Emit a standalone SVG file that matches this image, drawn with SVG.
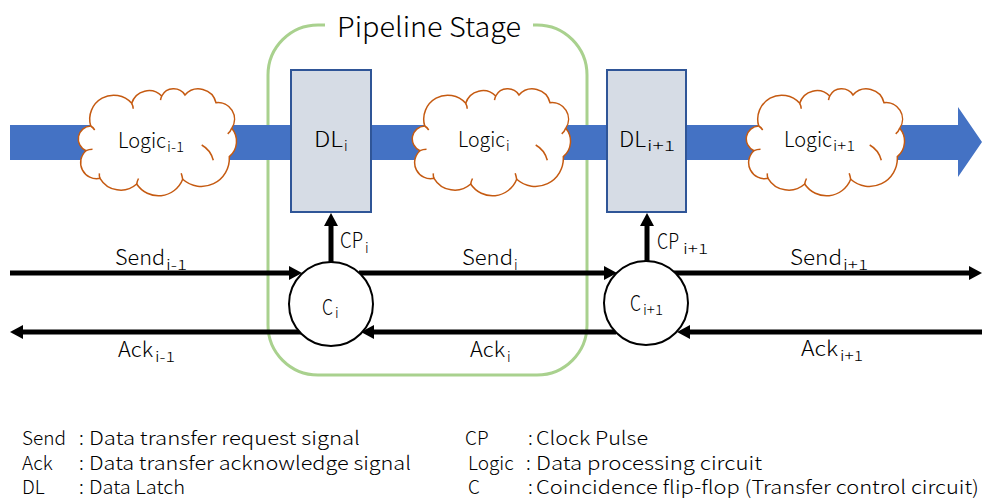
<svg xmlns="http://www.w3.org/2000/svg" xmlns:xlink="http://www.w3.org/1999/xlink" width="982" height="498" viewBox="0 0 982 498">
<style>
text{font-family:"Noto Sans CJK JP","Liberation Sans",sans-serif;font-weight:300;fill:#000}
.lbl{font-size:21px}
.sub{font-size:14px}
.leg{font-size:19px}
.ttl{font-size:27px}
.dl{fill:#D6DCE5;stroke:#2F5597;stroke-width:2}
.cc{fill:#fff;stroke:#000;stroke-width:2}
.sig{fill:none;stroke:#000;stroke-width:5;marker-end:url(#ah)}
.cloud{fill:#fff;stroke:#C55A11;stroke-width:1.5}
.hook{fill:none;stroke:#C55A11;stroke-width:1.5}
</style>
<defs>
<marker id="ah" viewBox="0 0 13 14" refX="2" refY="7" markerWidth="13" markerHeight="14" markerUnits="userSpaceOnUse" orient="auto">
<path d="M0,0 L13,7 L0,14 Z" fill="#000"/>
</marker>
<g id="cloud">
<path class="cloud" d="M12.7 36 A24 24 0 0 1 53.7 13.3 A18 18 0 0 1 83.7 6 A13.5 13.5 0 0 1 107 5 A18 18 0 0 1 138 12.7 A16.5 16.5 0 0 1 153.7 38.3 A20 20 0 0 1 151.3 66.7 A28 28 0 0 1 104.7 89.3 A26 26 0 0 1 58.7 94 A24 24 0 0 1 22 88.3 A16 16 0 0 1 8 60.7 A12.9 12.9 0 0 1 12.7 36 Z"/>
<path class="hook" d="M12.7 36 q2.5 1.5 4 4 M53.7 13.3 q1.5 2.5 1.5 5.5 M83.7 6 q-0.8 2 -1.2 4.2 M153.7 38.3 q-1 3 -4 5.5 M123.7 55 q9 5 11.6 15.3 M104.7 89.3 q-0.5 -3 -1.5 -6 M58.7 94 q0.5 -3 1.8 -5.5 M22 88.3 q-1 -2.5 -0.6 -5 M8 60.7 q3 -1.5 6.5 -1.5"/>
</g>
</defs>

<g id="pipeline-stage">
<path d="M325 25 H318 A50 50 0 0 0 268 75 V325 A50 50 0 0 0 318 375 H537 A50 50 0 0 0 587 325 V75 A50 50 0 0 0 537 25 H533" fill="none" stroke="#A9D18E" stroke-width="3"/>
<text class="ttl" x="337" y="37" textLength="184" lengthAdjust="spacingAndGlyphs">Pipeline Stage</text>
</g>

<g id="data-path">
<path d="M10 125 H958 V107 L982 142 L958 177 V160 H10 Z" fill="#4472C4"/>
</g>

<g id="connectors">
<path class="sig" d="M10 273 H291"/>
<path class="sig" d="M359 273 H606"/>
<path class="sig" d="M674 273 H971"/>
<path class="sig" d="M982 332 H688"/>
<path class="sig" d="M616 332 H372"/>
<path class="sig" d="M301 332 H21"/>
<path class="sig" d="M331 262 V224"/>
<path class="sig" d="M647 262 V224"/>
<text class="lbl" x="115" y="265"><tspan textLength="50" lengthAdjust="spacingAndGlyphs">Send</tspan><tspan class="sub" x="166" y="270" textLength="21" lengthAdjust="spacingAndGlyphs">i-1</tspan></text>
<text class="lbl" x="462" y="265"><tspan textLength="51" lengthAdjust="spacingAndGlyphs">Send</tspan><tspan class="sub" x="514" y="270">i</tspan></text>
<text class="lbl" x="790" y="265"><tspan textLength="52" lengthAdjust="spacingAndGlyphs">Send</tspan><tspan class="sub" x="843" y="270" textLength="25" lengthAdjust="spacingAndGlyphs">i+1</tspan></text>
<text class="lbl" x="118" y="357"><tspan textLength="35" lengthAdjust="spacingAndGlyphs">Ack</tspan><tspan class="sub" x="155" y="362" textLength="20" lengthAdjust="spacingAndGlyphs">i-1</tspan></text>
<text class="lbl" x="470" y="357"><tspan textLength="35" lengthAdjust="spacingAndGlyphs">Ack</tspan><tspan class="sub" x="507" y="362">i</tspan></text>
<text class="lbl" x="801" y="356"><tspan textLength="37" lengthAdjust="spacingAndGlyphs">Ack</tspan><tspan class="sub" x="840" y="361" textLength="23" lengthAdjust="spacingAndGlyphs">i+1</tspan></text>
<text class="lbl" x="340" y="248"><tspan textLength="23" lengthAdjust="spacingAndGlyphs">CP</tspan><tspan class="sub" x="365" y="253">i</tspan></text>
<text class="lbl" x="657" y="249"><tspan textLength="22" lengthAdjust="spacingAndGlyphs">CP</tspan><tspan class="sub" x="683" y="254" textLength="25" lengthAdjust="spacingAndGlyphs">i+1</tspan></text>
</g>

<g id="logic-i-1">
<use href="#cloud" x="78" y="90"/>
<text class="lbl" x="118" y="148"><tspan textLength="48" lengthAdjust="spacingAndGlyphs">Logic</tspan><tspan class="sub" x="167" y="152" textLength="17" lengthAdjust="spacingAndGlyphs">i-1</tspan></text>
</g>

<g id="dl-i">
<rect class="dl" x="291" y="70" width="80" height="142"/>
<text class="lbl" x="314" y="147"><tspan textLength="29" lengthAdjust="spacingAndGlyphs">DL</tspan><tspan class="sub" x="344" y="151">i</tspan></text>
</g>

<g id="logic-i">
<use href="#cloud" x="412" y="90"/>
<text class="lbl" x="458" y="147"><tspan textLength="47" lengthAdjust="spacingAndGlyphs">Logic</tspan><tspan class="sub" x="506" y="151">i</tspan></text>
</g>

<g id="dl-i+1">
<rect class="dl" x="607" y="70" width="79" height="142"/>
<text class="lbl" x="619" y="147"><tspan textLength="27" lengthAdjust="spacingAndGlyphs">DL</tspan><tspan class="sub" x="647" y="151" textLength="28" lengthAdjust="spacingAndGlyphs">i+1</tspan></text>
</g>

<g id="logic-i+1">
<use href="#cloud" x="746" y="90"/>
<text class="lbl" x="784" y="147"><tspan textLength="48" lengthAdjust="spacingAndGlyphs">Logic</tspan><tspan class="sub" x="833" y="151" textLength="22" lengthAdjust="spacingAndGlyphs">i+1</tspan></text>
</g>

<g id="c-i">
<circle class="cc" cx="331" cy="304" r="42"/>
<text class="lbl" x="322" y="315"><tspan textLength="11" lengthAdjust="spacingAndGlyphs">C</tspan><tspan class="sub" x="335" y="318">i</tspan></text>
</g>

<g id="c-i+1">
<circle class="cc" cx="646" cy="303" r="42"/>
<text class="lbl" x="630" y="311"><tspan textLength="11" lengthAdjust="spacingAndGlyphs">C</tspan><tspan class="sub" x="643" y="315" textLength="20" lengthAdjust="spacingAndGlyphs">i+1</tspan></text>
</g>

<g id="legend">
<text class="leg" x="22" y="445">Send<tspan x="79">:</tspan><tspan x="89" textLength="271" lengthAdjust="spacingAndGlyphs">Data transfer request signal</tspan></text>
<text class="leg" x="22" y="470">Ack<tspan x="79">:</tspan><tspan x="89" textLength="322" lengthAdjust="spacingAndGlyphs">Data transfer acknowledge signal</tspan></text>
<text class="leg" x="22" y="494">DL<tspan x="79">:</tspan><tspan x="89" textLength="96" lengthAdjust="spacingAndGlyphs">Data Latch</tspan></text>
<text class="leg" x="465" y="445">CP<tspan x="528">:</tspan><tspan x="536" textLength="112" lengthAdjust="spacingAndGlyphs">Clock Pulse</tspan></text>
<text class="leg" x="468" y="470">Logic<tspan x="526">:</tspan><tspan x="536" textLength="226" lengthAdjust="spacingAndGlyphs">Data processing circuit</tspan></text>
<text class="leg" x="468" y="494">C<tspan x="528">:</tspan><tspan x="536" textLength="443" lengthAdjust="spacingAndGlyphs">Coincidence flip-flop (Transfer control circuit)</tspan></text>
</g>
</svg>
